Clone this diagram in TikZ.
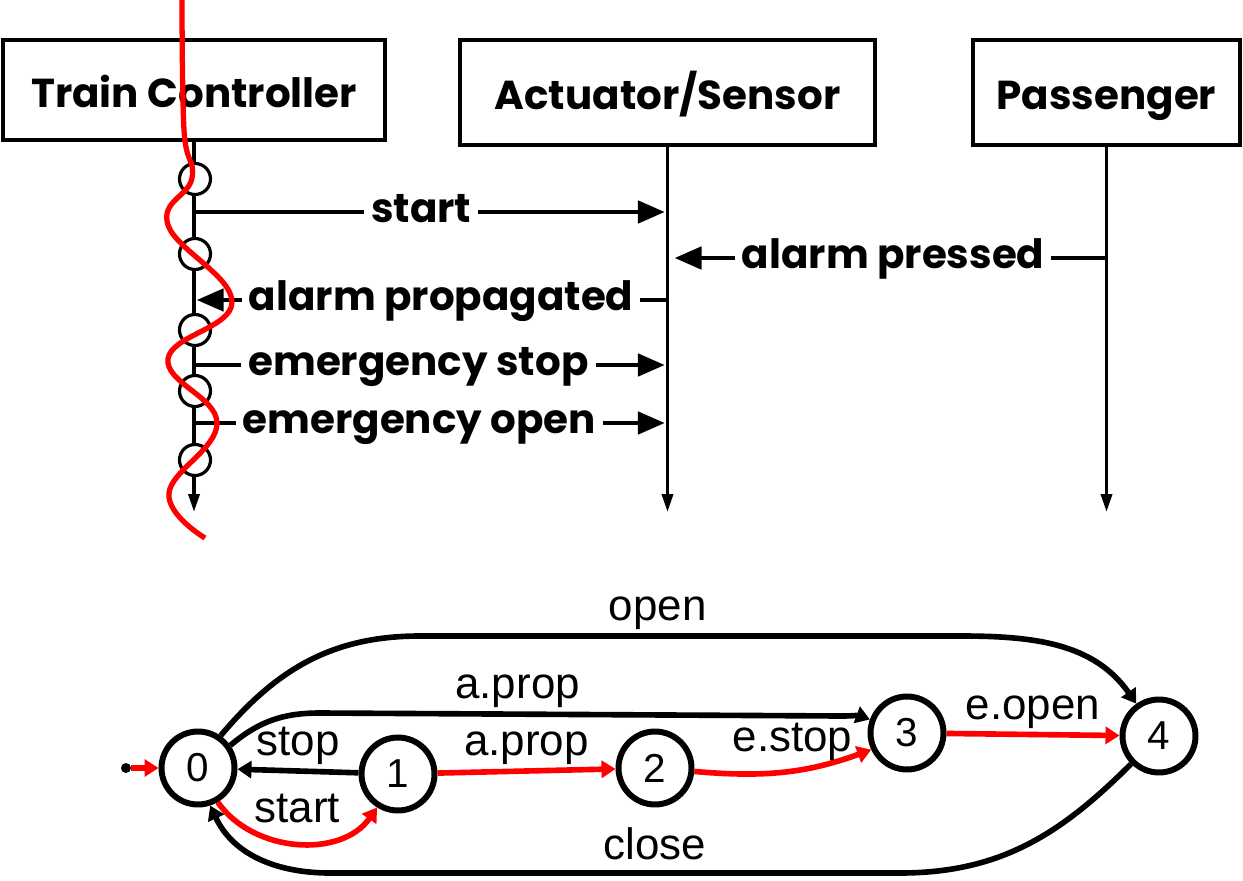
\documentclass[tikz,border=0pt]{standalone}
\usepackage{fontspec}
\setmainfont{Liberation Sans}
\newfontfamily\seqfont{Poppins}
\usetikzlibrary{arrows.meta,calc}

\begin{document}
\begin{tikzpicture}[x=0.02cm, y=-0.02cm,
  obj/.style={draw, line width=2.1pt, inner sep=0pt, text height=0.7cm, text depth=0pt, font=\seqfont\bfseries\fontsize{23}{28}\selectfont},
  life/.style={line width=2pt, -{Triangle[length=0.36cm,width=0.22cm]}},
  msg/.style={line width=2.8pt, -{Triangle[length=0.54cm,width=0.44cm]}, shorten >=1.5pt},
  msglbl/.style={fill=white, inner xsep=4pt, inner ysep=1pt, text height=12pt, text depth=0pt, font=\seqfont\bfseries\fontsize{23}{28}\selectfont},
  evt/.style={circle, draw, fill=white, line width=1.8pt, minimum size=0.62cm, inner sep=0pt},
  cut/.style={red, line width=3pt},
  loc/.style={circle, draw, line width=3.4pt, minimum size=1.46cm, inner sep=0pt, font=\fontsize{23}{26}\selectfont},
  trans/.style={line width=3.2pt, -{Triangle[length=0.28cm,width=0.34cm]}},
  hot/.style={trans, red},
  lbl/.style={text=black, font=\fontsize{25}{30}\selectfont, inner sep=2pt}
]
\useasboundingbox (0,0) rectangle (1243,881);

% sequence chart
\node[obj, minimum width=7.64cm, minimum height=2cm] (TC) at (194,90) {Train Controller};
\node[obj, minimum width=8.3cm, minimum height=2.1cm] (AS) at (667.5,92.5) {Actuator/Sensor};
\node[obj, minimum width=5.34cm, minimum height=2.1cm] (P) at (1106.5,92.5) {Passenger};

\coordinate (end) at (0,512);
\draw[life] (TC.south) -- (TC.south |- end);
\draw[life] (AS.south) -- (AS.south |- end);
\draw[life] (P.south) -- (P.south |- end);

\coordinate (m1) at (0,212);
\coordinate (m2) at (0,258);
\coordinate (m3) at (0,300);
\coordinate (m4) at (0,365);
\coordinate (m5) at (0,423);

\draw[msg] (TC.south |- m1) -- node[msglbl, pos=0.48] {start} (AS.south |- m1);
\draw[msg, shorten >=4pt] (P.south |- m2) -- node[msglbl, pos=0.486] {alarm pressed} (AS.south |- m2);
\draw[msg] (AS.south |- m3) -- node[msglbl, pos=0.478] {alarm propagated} (TC.south |- m3);
\draw[msg] (TC.south |- m4) -- node[msglbl, pos=0.474] {emergency stop} (AS.south |- m4);
\draw[msg] (TC.south |- m5) -- node[msglbl, pos=0.476] {emergency open} (AS.south |- m5);

\foreach \y/\n in {179/1,254/2,330/3,391/4,460/5}
  \node[evt] (e\n) at (195,\y) {};

% automaton
\node[circle, fill, inner sep=0pt, minimum size=0.2cm] (init) at (126,768) {};
\node[loc] (s0) at (198,768) {0};
\node[loc] (s1) at (398,774) {1};
\node[loc] (s2) at (655,768) {2};
\node[loc] (s3) at (907,733) {3};
\node[loc] (s4) at (1159,736) {4};

\draw[hot] (init) -- (s0);
\draw[trans] (s0.55) to[out=50,in=180] (420,636) -- node[lbl, above, pos=0.44] {open} (960,636) to[out=0,in=125] (s4.125);
\draw[trans] (s0.35) to[out=40,in=180] (320,713) -- node[lbl, above, pos=0.38] {a.prop} (840,716) to[out=0,in=160] (s3.160);
\draw[trans] (s1) -- node[lbl, above] {stop} (s0);
\draw[hot] (s0.-60) to[out=-55,in=-125] node[lbl, above=8pt] {start} (s1.-122);
\draw[hot] (s1) -- node[lbl, above] {a.prop} (s2);
\draw[hot] (s2) to[out=-5,in=200] node[lbl, above=2pt, pos=0.55] {e.stop} (s3.205);
\draw[hot] (s3) -- node[lbl, above] {e.open} (s4);
\draw[trans] (s4.225) to[out=225,in=0] (900,873) -- node[lbl, above=4pt, pos=0.43] {close} (330,873) to[out=180,in=-65] (s0.-72);

% cut line
\draw[cut] plot[smooth, tension=0.7] coordinates {(182,0) (184,130) (192,178) (168,225) (232,302) (168,359) (217,423) (169,493) (205,538)};
\end{tikzpicture}
\end{document}
